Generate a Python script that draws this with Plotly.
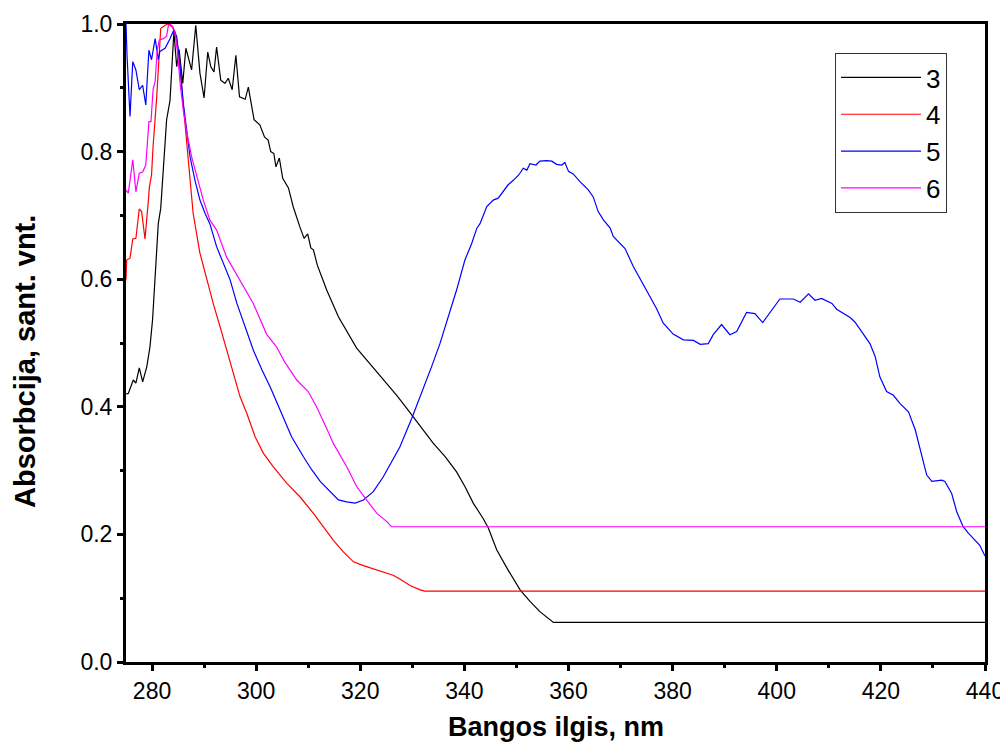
import plotly.graph_objects as go

# ---- data ----
wl_3 = [275.0, 275.44, 276.4, 276.9, 277.55, 278.2, 279.0, 279.6, 280.1, 280.9, 281.2, 281.67, 282.05,
        282.8, 283.45, 284.2, 284.74, 285.2, 285.9, 286.5, 287.6, 288.4, 289.2, 290.0, 290.7, 291.3,
        291.9, 292.4, 293.2, 294.0, 294.65, 295.4, 296.1, 296.8, 297.9, 298.5, 299.6, 300.7, 301.6,
        302.3, 302.8, 303.4, 303.8, 304.45, 305.1, 306.2, 306.8, 307.1, 308.4, 309.2, 309.9, 310.5,
        311.0, 311.75, 313.55, 315.8, 319.3, 322.5, 325.1, 327.0, 328.9, 330.2, 331.5, 334.0, 336.3,
        338.5, 340.1, 341.7, 343.6, 344.6, 346.2, 348.4, 350.7, 352.6, 354.5, 357.1, 440.0]
abs_3 = [0.420, 0.421, 0.442, 0.437, 0.461, 0.439, 0.463, 0.494, 0.536, 0.635, 0.687, 0.711, 0.755,
         0.850, 0.880, 0.988, 0.933, 0.960, 0.907, 0.962, 0.928, 0.998, 0.923, 0.884, 0.956, 0.933,
         0.925, 0.964, 0.912, 0.907, 0.915, 0.897, 0.951, 0.886, 0.882, 0.901, 0.850, 0.842, 0.823,
         0.818, 0.800, 0.797, 0.776, 0.790, 0.758, 0.743, 0.724, 0.714, 0.682, 0.664, 0.671, 0.649,
         0.646, 0.622, 0.583, 0.541, 0.492, 0.461, 0.437, 0.418, 0.398, 0.384, 0.371, 0.343, 0.322,
         0.298, 0.275, 0.249, 0.225, 0.210, 0.176, 0.144, 0.113, 0.095, 0.079, 0.062, 0.062]

wl_4 = [275.0, 275.13, 275.77, 276.3, 276.9, 277.55, 278.0, 278.65, 279.3, 279.5, 279.9, 280.2, 280.9,
        281.4, 281.67, 282.5, 283.1, 283.8, 284.4, 285.05, 285.7, 286.3, 287.0, 287.6, 287.9, 289.2,
        290.5, 291.75, 293.05, 294.3, 295.6, 296.9, 298.2, 299.3, 299.8, 301.4, 303.3, 305.9, 308.4,
        311.0, 312.9, 314.8, 316.7, 318.7, 320.6, 322.5, 324.4, 326.3, 327.6, 329.55, 331.5, 332.4, 440.0]
abs_4 = [0.599, 0.630, 0.633, 0.663, 0.664, 0.710, 0.706, 0.663, 0.724, 0.745, 0.763, 0.808, 0.886,
         0.959, 0.993, 0.998, 1.000, 0.996, 0.988, 0.959, 0.902, 0.839, 0.787, 0.729, 0.703, 0.641,
         0.599, 0.562, 0.526, 0.489, 0.452, 0.416, 0.390, 0.366, 0.353, 0.327, 0.306, 0.280, 0.259,
         0.233, 0.212, 0.191, 0.173, 0.157, 0.151, 0.146, 0.140, 0.136, 0.130, 0.120, 0.113, 0.111, 0.111]

wl_5 = [275.0, 275.2, 275.77, 276.3, 276.9, 277.55, 278.2, 278.8, 279.4, 279.9, 280.6, 281.2, 281.5,
        282.5, 283.45, 284.2, 284.74, 285.4, 286.0, 286.7, 287.3, 288.25, 289.2, 290.2, 291.1, 292.4,
        293.7, 295.0, 296.3, 297.9, 299.45, 301.1, 302.7, 304.6, 306.2, 306.8, 309.05, 310.7, 312.3,
        313.9, 315.8, 317.4, 319.0, 320.6, 322.5, 324.4, 326.3, 327.6, 329.9, 331.8, 333.7, 335.3,
        336.9, 338.5, 340.1, 341.4, 342.4, 343.0, 344.3, 345.55, 346.5, 347.8, 348.4, 349.4, 350.4,
        351.3, 352.0, 352.6, 353.75, 354.5, 355.8, 356.8, 357.7, 358.7, 359.3, 360.0, 360.9, 362.2,
        363.8, 364.75, 365.7, 366.7, 368.0, 368.6, 369.9, 370.85, 372.45, 374.05, 375.65, 376.9,
        378.2, 380.1, 382.05, 384.0, 385.3, 386.85, 387.8, 389.4, 391.0, 392.3, 394.2, 395.8, 397.3,
        399.0, 400.6, 403.2, 404.5, 406.1, 407.35, 408.6, 410.6, 411.5, 414.1, 415.0, 416.3, 417.9,
        418.9, 419.8, 421.1, 422.4, 423.7, 425.3, 426.6, 427.8, 428.8, 429.8, 431.7, 432.3, 433.6,
        434.55, 435.8, 436.8, 438.4, 439.0, 440.0]
abs_5 = [1.000, 0.950, 0.855, 0.941, 0.928, 0.897, 0.904, 0.873, 0.959, 0.944, 0.977, 0.944, 0.957,
         0.962, 0.977, 0.991, 0.980, 0.933, 0.876, 0.829, 0.792, 0.755, 0.724, 0.703, 0.687, 0.651,
         0.625, 0.599, 0.562, 0.526, 0.489, 0.458, 0.431, 0.395, 0.366, 0.353, 0.322, 0.301, 0.283,
         0.270, 0.254, 0.251, 0.249, 0.254, 0.267, 0.290, 0.319, 0.337, 0.382, 0.421, 0.463, 0.499,
         0.541, 0.583, 0.630, 0.656, 0.680, 0.687, 0.714, 0.724, 0.727, 0.742, 0.748, 0.755, 0.763,
         0.774, 0.771, 0.781, 0.779, 0.785, 0.786, 0.785, 0.780, 0.779, 0.783, 0.769, 0.765, 0.753,
         0.740, 0.729, 0.706, 0.693, 0.680, 0.667, 0.656, 0.648, 0.620, 0.596, 0.572, 0.554,
         0.531, 0.514, 0.505, 0.504, 0.498, 0.499, 0.513, 0.529, 0.513, 0.518, 0.548, 0.546, 0.532,
         0.551, 0.569, 0.569, 0.564, 0.577, 0.567, 0.570, 0.562, 0.553, 0.540, 0.533, 0.518, 0.499,
         0.479, 0.447, 0.424, 0.418, 0.405, 0.392, 0.364, 0.327, 0.293, 0.283, 0.285, 0.283, 0.264,
         0.236, 0.212, 0.202, 0.189, 0.183, 0.166]

wl_6 = [275.0, 275.44, 275.77, 276.3, 276.9, 277.55, 278.2, 278.8, 279.4, 279.8, 280.2, 280.6, 281.0,
        281.4, 282.2, 282.8, 283.1, 283.45, 284.0, 284.4, 284.85, 285.4, 286.0, 286.7, 287.6, 288.6,
        289.85, 291.1, 292.4, 294.3, 296.9, 299.45, 302.0, 303.9, 305.5, 307.8, 310.0, 311.6, 313.55,
        314.8, 317.4, 319.3, 321.2, 323.2, 325.1, 326.0, 440.0]
abs_6 = [0.740, 0.735, 0.755, 0.787, 0.737, 0.766, 0.768, 0.779, 0.847, 0.847, 0.897, 0.910, 0.959,
         0.975, 0.977, 0.981, 0.996, 1.000, 0.996, 0.986, 0.959, 0.907, 0.865, 0.829, 0.792, 0.761,
         0.724, 0.693, 0.677, 0.635, 0.599, 0.562, 0.514, 0.494, 0.470, 0.442, 0.424, 0.400, 0.366,
         0.343, 0.306, 0.275, 0.254, 0.233, 0.220, 0.212, 0.212]

series_names = ["3", "4", "5", "6"]
series_colors = ["#000000", "#FF0000", "#0000FF", "#FF00FF"]

x_ticks = [280, 300, 320, 340, 360, 380, 400, 420, 440]
y_ticks = [0.0, 0.2, 0.4, 0.6, 0.8, 1.0]

x_title = "Bangos ilgis, nm"
y_title = "Absorbcija, sant. vnt."

FONT = "Arial, Liberation Sans, sans-serif"

fig = go.Figure()
for wl, ab, name, col in zip([wl_3, wl_4, wl_5, wl_6], [abs_3, abs_4, abs_5, abs_6],
                             series_names, series_colors):
    fig.add_trace(go.Scatter(x=wl, y=ab, mode="lines", name=name,
                             line=dict(color=col, width=1.2)))

axis_common = dict(
    showline=True, linecolor="black", linewidth=3, mirror=True,
    ticks="outside", tickcolor="black", tickwidth=3, ticklen=6,
    showgrid=False, zeroline=False, automargin=False,
    tickfont=dict(family=FONT, size=23, color="black"),
)

fig.update_xaxes(
    range=[275, 440], tickvals=x_ticks, ticktext=[str(v) for v in x_ticks],
    minor=dict(ticks="outside", ticklen=3, tickwidth=3, tickcolor="black", dtick=10, tick0=270),
    **axis_common,
)
fig.update_yaxes(
    range=[0, 1.0], tickvals=y_ticks, ticktext=["%.1f" % v for v in y_ticks],
    minor=dict(ticks="outside", ticklen=3, tickwidth=3, tickcolor="black", dtick=0.1, tick0=0),
    **axis_common,
)

# the page body adds an 8px offset, so the figure is 8px smaller and margins shifted
fig.update_layout(
    width=1000, height=738,
    margin=dict(l=118, r=23, t=16, b=84),
    paper_bgcolor="white", plot_bgcolor="white",
    showlegend=True,
    legend=dict(
        x=0.8254, y=0.9545, xanchor="left", yanchor="top",
        bordercolor="#333333", borderwidth=1, bgcolor="white",
        font=dict(family=FONT, size=26, color="black"),
        itemwidth=80, tracegroupgap=0,
    ),
    annotations=[
        dict(text="<b>%s</b>" % x_title, xref="paper", yref="paper", x=0.5, y=-0.1019,
             xanchor="center", yanchor="middle", showarrow=False,
             font=dict(family=FONT, size=27, color="black")),
        dict(text="<b>%s</b>" % y_title, xref="paper", yref="paper", x=-0.1176, y=0.4718,
             xanchor="center", yanchor="middle", showarrow=False, textangle=-90,
             font=dict(family=FONT, size=29, color="black")),
    ],
)

fig.write_html("out.html")
